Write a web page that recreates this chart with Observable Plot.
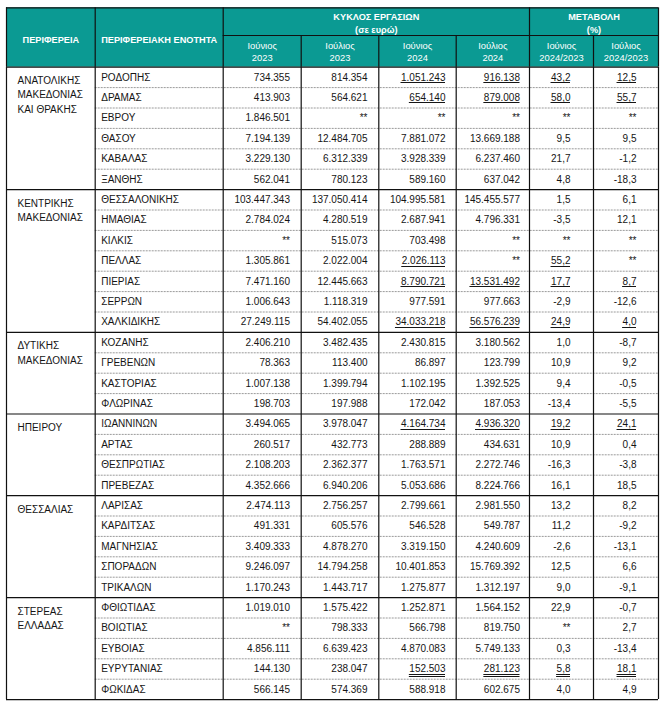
<!DOCTYPE html>
<html>
<head>
<meta charset="utf-8">
<script src="https://cdn.jsdelivr.net/npm/d3@7"></script>
<script src="https://cdn.jsdelivr.net/npm/@observablehq/plot@0.6"></script>
<style>
  html, body { margin: 0; padding: 0; background: #ffffff; }
  #chart svg { display: block; }
</style>
</head>
<body>
<div id="chart"></div>
<script>
// ---------------- DATA ----------------
const stubHeaders = ["ΠΕΡΙΦΕΡΕΙΑ", "ΠΕΡΙΦΕΡΕΙΑΚΗ ΕΝΟΤΗΤΑ"];
const groupHeaders = ["ΚΥΚΛΟΣ ΕΡΓΑΣΙΩΝ\n(σε ευρώ)", "ΜΕΤΑΒΟΛΗ\n(%)"];
const colHeaders = ["Ιούνιος\n2023", "Ιούλιος\n2023", "Ιούνιος\n2024", "Ιούλιος\n2024", "Ιούνιος\n2024/2023", "Ιούλιος\n2024/2023"];

const regionNames = [
  "ΑΝΑΤΟΛΙΚΗΣ\nΜΑΚΕΔΟΝΙΑΣ\nΚΑΙ ΘΡΑΚΗΣ",
  "ΚΕΝΤΡΙΚΗΣ\nΜΑΚΕΔΟΝΙΑΣ",
  "ΔΥΤΙΚΗΣ\nΜΑΚΕΔΟΝΙΑΣ",
  "ΗΠΕΙΡΟΥ",
  "ΘΕΣΣΑΛΙΑΣ",
  "ΣΤΕΡΕΑΣ\nΕΛΛΑΔΑΣ"
];
const regionSizes = [6, 7, 4, 4, 5, 5];

const districts = [
  "ΡΟΔΟΠΗΣ", "ΔΡΑΜΑΣ", "ΕΒΡΟΥ", "ΘΑΣΟΥ", "ΚΑΒΑΛΑΣ", "ΞΑΝΘΗΣ",
  "ΘΕΣΣΑΛΟΝΙΚΗΣ", "ΗΜΑΘΙΑΣ", "ΚΙΛΚΙΣ", "ΠΕΛΛΑΣ", "ΠΙΕΡΙΑΣ", "ΣΕΡΡΩΝ", "ΧΑΛΚΙΔΙΚΗΣ",
  "ΚΟΖΑΝΗΣ", "ΓΡΕΒΕΝΩΝ", "ΚΑΣΤΟΡΙΑΣ", "ΦΛΩΡΙΝΑΣ",
  "ΙΩΑΝΝΙΝΩΝ", "ΑΡΤΑΣ", "ΘΕΣΠΡΩΤΙΑΣ", "ΠΡΕΒΕΖΑΣ",
  "ΛΑΡΙΣΑΣ", "ΚΑΡΔΙΤΣΑΣ", "ΜΑΓΝΗΣΙΑΣ", "ΣΠΟΡΑΔΩΝ", "ΤΡΙΚΑΛΩΝ",
  "ΦΘΙΩΤΙΔΑΣ", "ΒΟΙΩΤΙΑΣ", "ΕΥΒΟΙΑΣ", "ΕΥΡΥΤΑΝΙΑΣ", "ΦΩΚΙΔΑΣ"
];

// null = "**" (confidential)
const jun2023 = [734355, 413903, 1846501, 7194139, 3229130, 562041,
  103447343, 2784024, null, 1305861, 7471160, 1006643, 27249115,
  2406210, 78363, 1007138, 198703,
  3494065, 260517, 2108203, 4352666,
  2474113, 491331, 3409333, 9246097, 1170243,
  1019010, null, 4856111, 144130, 566145];
const jul2023 = [814354, 564621, null, 12484705, 6312339, 780123,
  137050414, 4280519, 515073, 2022004, 12445663, 1118319, 54402055,
  3482435, 113400, 1399794, 197988,
  3978047, 432773, 2362377, 6940206,
  2756257, 605576, 4878270, 14794258, 1443717,
  1575422, 798333, 6639423, 238047, 574369];
const jun2024 = [1051243, 654140, null, 7881072, 3928339, 589160,
  104995581, 2687941, 703498, 2026113, 8790721, 977591, 34033218,
  2430815, 86897, 1102195, 172042,
  4164734, 288889, 1763571, 5053686,
  2799661, 546528, 3319150, 10401853, 1275877,
  1252871, 566798, 4870083, 152503, 588918];
const jul2024 = [916138, 879008, null, 13669188, 6237460, 637042,
  145455577, 4796331, null, null, 13531492, 977663, 56576239,
  3180562, 123799, 1392525, 187053,
  4936320, 434631, 2272746, 8224766,
  2981550, 549787, 4240609, 15769392, 1312197,
  1564152, 819750, 5749133, 281123, 602675];
const pctJun = [43.2, 58.0, null, 9.5, 21.7, 4.8,
  1.5, -3.5, null, 55.2, 17.7, -2.9, 24.9,
  1.0, 10.9, 9.4, -13.4,
  19.2, 10.9, -16.3, 16.1,
  13.2, 11.2, -2.6, 12.5, 9.0,
  22.9, null, 0.3, 5.8, 4.0];
const pctJul = [12.5, 55.7, null, 9.5, -1.2, -18.3,
  6.1, 12.1, null, null, 8.7, -12.6, 4.0,
  -8.7, 9.2, -0.5, -5.5,
  24.1, 0.4, -3.8, 18.5,
  8.2, -9.2, -13.1, 6.6, -9.1,
  -0.7, 2.7, -13.4, 18.1, 4.9];

// districts whose 2024 values and changes are underlined
const underlineSingle = ["ΡΟΔΟΠΗΣ", "ΔΡΑΜΑΣ", "ΠΕΛΛΑΣ", "ΠΙΕΡΙΑΣ", "ΧΑΛΚΙΔΙΚΗΣ", "ΙΩΑΝΝΙΝΩΝ"];
const underlineDouble = ["ΕΥΡΥΤΑΝΙΑΣ"];

// ---------------- LAYOUT ----------------
const W = 665, H = 708;
const edges = [6, 94.7, 222.7, 300.7, 378.3, 455.7, 529, 593, 658];
const headTop = 7.3, headSub = 35, headBottom = 66.7, rowH = 20.4;
const valueRight = [289.5, 367, 445, 519.5, 570, 636];
const teal = "#0b9a93";
const ink = "#151515";
const fNarrow = "'Liberation Sans Narrow', 'Arial Narrow', 'Liberation Sans', Arial, sans-serif";
const fSans = "'Liberation Sans', Arial, sans-serif";
const valueFontSize = 10;

const loc = d3.formatLocale({decimal: ",", thousands: ".", grouping: [3], currency: ["", "€"], minus: "-"});
const fmtInt = loc.format(",d");
const fmtPct = loc.format(",.1f");

const nRows = districts.length;
const rowTop = i => headBottom + i * rowH;
const rowMid = i => headBottom + (i + 0.5) * rowH;
const tableBottom = rowTop(nRows);

// text width measurement for underlines
const measureCtx = document.createElement("canvas").getContext("2d");
measureCtx.font = `${valueFontSize}px ${fSans}`;
const textWidth = s => measureCtx.measureText(s).width;

// region spans
const regions = [];
{
  let start = 0;
  regionNames.forEach((name, k) => {
    regions.push({name, start, end: start + regionSizes[k]});
    start += regionSizes[k];
  });
}
const groupStarts = new Set(regions.map(r => r.start));

// value cells
const series = [jun2023, jul2023, jun2024, jul2024, pctJun, pctJul];
const cells = [];
districts.forEach((d, i) => {
  series.forEach((s, c) => {
    const v = s[i];
    const text = v == null ? "**" : (c < 4 ? fmtInt(v) : fmtPct(v));
    let deco = 0;
    if (c >= 2 && v != null) {
      if (underlineSingle.includes(d)) deco = 1;
      if (underlineDouble.includes(d)) deco = 2;
    }
    cells.push({row: i, col: c, text, deco});
  });
});
const underlines = [];
cells.filter(c => c.deco > 0).forEach(c => {
  const w = textWidth(c.text);
  for (let k = 0; k < c.deco; k++) {
    underlines.push({x1: valueRight[c.col] - w, x2: valueRight[c.col], y: Math.round(rowMid(c.row) + 5) + k * 2});
  }
});

// lines
const hLines = [];
for (let i = 1; i < nRows; i++) {
  const group = groupStarts.has(i);
  hLines.push({y: rowTop(i), x1: group ? edges[0] : edges[1], x2: edges[8], dashed: !group});
}
const solidH = [
  {y: headTop, x1: edges[0], x2: edges[8]},
  {y: headSub, x1: edges[2], x2: edges[8]},
  {y: headBottom, x1: edges[0], x2: edges[8]},
  {y: tableBottom, x1: edges[0], x2: edges[8]},
  ...hLines.filter(l => !l.dashed)
];
const dashedH = hLines.filter(l => l.dashed);
const vLines = [];
edges.forEach((x, k) => {
  vLines.push({x, y1: headBottom, y2: tableBottom});
  const full = [0, 1, 2, 6, 8].includes(k);
  vLines.push({x, y1: full ? headTop : headSub, y2: headBottom});
});

// header label positions
const headerLabels = [
  {x: (edges[0] + edges[1]) / 2, y: (headTop + headBottom) / 2 + 1, text: stubHeaders[0]},
  {x: (edges[1] + edges[2]) / 2, y: (headTop + headBottom) / 2 + 1, text: stubHeaders[1]},
  {x: (edges[2] + edges[6]) / 2, y: (headTop + headSub) / 2 + 0.5, text: groupHeaders[0]},
  {x: (edges[6] + edges[8]) / 2, y: (headTop + headSub) / 2 + 0.5, text: groupHeaders[1]}
];
const monthLabels = colHeaders.map((t, c) => ({x: (edges[c + 2] + edges[c + 3]) / 2, y: (headSub + headBottom) / 2, text: t}));

const chart = Plot.plot({
  width: W,
  height: H,
  margin: 0,
  x: {type: "linear", domain: [0, W], range: [0, W], axis: null},
  y: {type: "linear", domain: [0, H], range: [0, H], axis: null},
  style: {background: "#ffffff"},
  marks: [
    Plot.rect([0], {x1: () => edges[0], x2: () => edges[8], y1: () => headTop, y2: () => headBottom, fill: teal}),
    Plot.ruleY(dashedH, {y: "y", x1: "x1", x2: "x2", stroke: "#9a9a9a", strokeWidth: 1, strokeDasharray: "2,1"}),
    Plot.ruleY(solidH, {y: "y", x1: "x1", x2: "x2", stroke: "#111", strokeWidth: 1.2}),
    Plot.ruleX(vLines, {x: "x", y1: "y1", y2: "y2", stroke: "#111", strokeWidth: 1.2}),
    Plot.text(headerLabels, {x: "x", y: "y", text: "text", fill: "#ffffff", fontWeight: "bold", fontSize: 9.2, fontFamily: fNarrow, lineHeight: 1.4}),
    Plot.text(monthLabels, {x: "x", y: "y", text: "text", fill: "#ffffff", fontSize: 9.4, fontFamily: fSans, lineHeight: 1.25}),
    Plot.text(regions, {x: () => edges[0] + 11, y: d => rowTop(d.start) + 7, text: "name", textAnchor: "start", lineAnchor: "top", fontSize: 10, fontFamily: fNarrow, fill: ink, lineHeight: 1.42}),
    Plot.text(districts, {x: () => edges[1] + 6, y: (d, i) => rowMid(i), text: d => d, textAnchor: "start", fontSize: 10, fontFamily: fNarrow, fill: ink}),
    Plot.text(cells, {
      x: d => valueRight[d.col],
      y: d => rowMid(d.row),
      text: "text",
      textAnchor: "end",
      fontSize: valueFontSize,
      fontFamily: fSans,
      fill: ink
    }),
    Plot.ruleY(underlines, {y: "y", x1: "x1", x2: "x2", stroke: ink, strokeWidth: 1})
  ]
});

document.getElementById("chart").appendChild(chart);
</script>
</body>
</html>
